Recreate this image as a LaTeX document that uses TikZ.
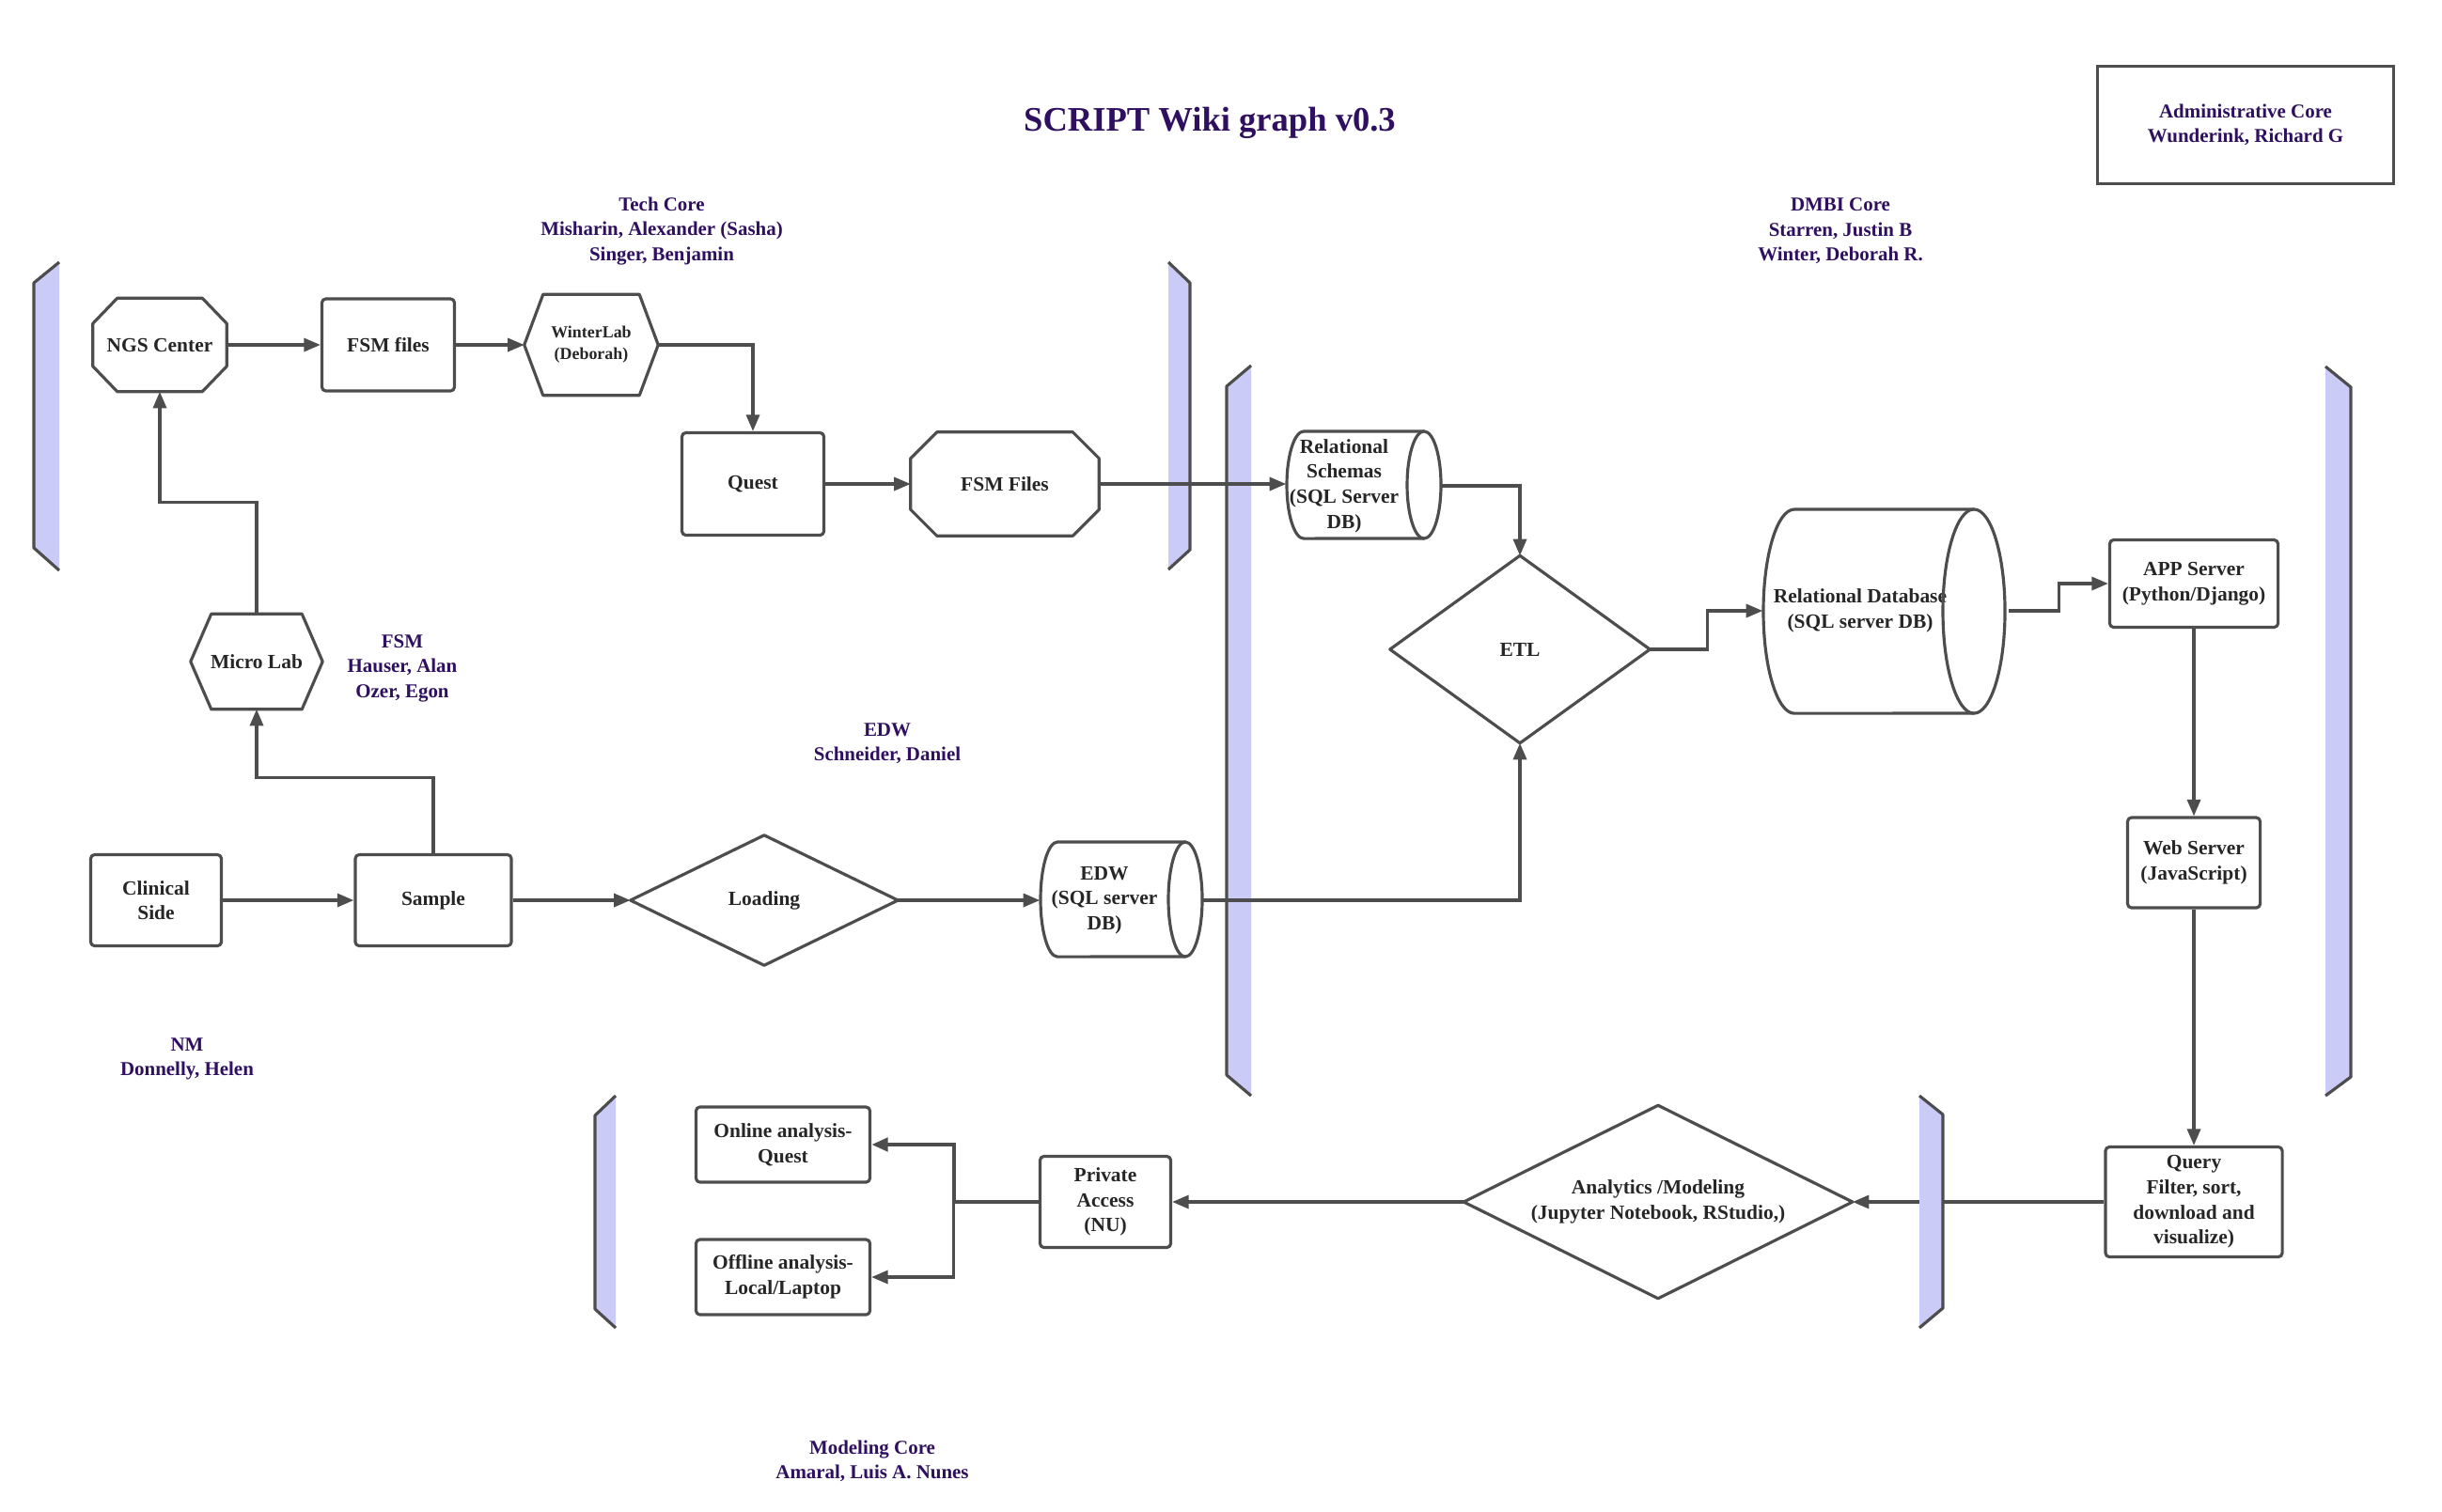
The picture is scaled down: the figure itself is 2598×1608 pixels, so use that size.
\documentclass[tikz,border=0pt]{standalone}
\usepackage{fontspec}
\setmainfont{Liberation Serif}
\usetikzlibrary{arrows.meta,calc}
\definecolor{ink}{HTML}{2F0F5F}
\definecolor{boxtext}{HTML}{262626}
\definecolor{edgecol}{HTML}{4D4D4D}
\definecolor{barfill}{HTML}{CBCBF7}
\newcommand\drawocta[3]{\draw[shp] ($(#1.north west)+(#2,0)$) -- ($(#1.north east)+(-#2,0)$) -- ($(#1.north east)+(0,#3)$) -- ($(#1.south east)+(0,-#3)$) -- ($(#1.south east)+(-#2,0)$) -- ($(#1.south west)+(#2,0)$) -- ($(#1.south west)+(0,-#3)$) -- ($(#1.north west)+(0,#3)$) -- cycle;}
\newcommand\drawhexa[2]{\draw[shp] ($(#1.north west)+(#2,0)$) -- ($(#1.north east)+(-#2,0)$) -- (#1.east) -- ($(#1.south east)+(-#2,0)$) -- ($(#1.south west)+(#2,0)$) -- (#1.west) -- cycle;}
\newcommand\drawdiam[1]{\draw[shp] (#1.north) -- (#1.east) -- (#1.south) -- (#1.west) -- cycle;}
\begin{document}
\begin{tikzpicture}[x=0.01cm,y=-0.01cm,
  lbl/.style={font=\fontsize{6.1}{7.6}\selectfont\bfseries, text=boxtext, align=center, inner sep=0pt},
  ann/.style={font=\fontsize{5.95}{7.5}\selectfont\bfseries, text=ink, align=center, inner sep=0pt},
  shp/.style={draw=edgecol, line width=0.9pt, line join=round},
  box/.style={shp, rounded corners=1.2pt},
  conn/.style={draw=edgecol, line width=0.9pt, -{Triangle[length=5pt,width=4pt]}},
  barstroke/.style={draw=edgecol, line width=0.9pt, line join=round}
]
\fill[white] (0,0) rectangle (2598,1608);
\useasboundingbox (0,0) rectangle (2598,1608);

% separator bars
\fill[barfill] (36,301) -- (63,279) -- (63,607) -- (36,583) -- cycle;
\draw[barstroke] (63,279) -- (36,301) -- (36,583) -- (63,607);
\fill[barfill] (1243,279) -- (1266,301) -- (1266,585) -- (1243,606) -- cycle;
\draw[barstroke] (1243,279) -- (1266,301) -- (1266,585) -- (1243,606);
\fill[barfill] (1331,389) -- (1305,411) -- (1305,1144) -- (1331,1166) -- cycle;
\draw[barstroke] (1331,389) -- (1305,411) -- (1305,1144) -- (1331,1166);
\fill[barfill] (2474,390) -- (2501,412) -- (2501,1146) -- (2474,1166) -- cycle;
\draw[barstroke] (2474,390) -- (2501,412) -- (2501,1146) -- (2474,1166);
\fill[barfill] (655,1166) -- (633,1187) -- (633,1393) -- (655,1413) -- cycle;
\draw[barstroke] (655,1166) -- (633,1187) -- (633,1393) -- (655,1413);

% title and annotations
\node[font=\fontsize{10.4}{12}\selectfont\bfseries, text=ink, inner sep=0pt] (title) at (1287,131) {SCRIPT Wiki graph v0.3};
\node[ann] (tech) at (704,246) {Tech Core\\Misharin, Alexander (Sasha)\\Singer, Benjamin};
\node[ann] (dmbi) at (1958,246) {DMBI Core\\Starren, Justin B\\Winter, Deborah R.};
\node[ann] (fsmann) at (428,711) {FSM\\Hauser, Alan\\Ozer, Egon};
\node[ann] (edwann) at (944,791) {EDW\\Schneider, Daniel};
\node[ann] (nm) at (199,1127) {NM\\Donnelly, Helen};
\node[ann] (model) at (928,1555) {Modeling Core\\Amaral, Luis A. Nunes};
\node[ann, draw=edgecol, line width=0.9pt, minimum width=3.15cm, minimum height=1.25cm] (admin) at (2389,133) {Administrative Core\\Wunderink, Richard G};

% top row
\node[lbl, minimum width=1.41cm, minimum height=0.98cm] (ngs) at (170,367) {NGS Center};
\drawocta{ngs}{26}{27}
\node[lbl, box, minimum width=1.41cm, minimum height=0.98cm] (fsmf) at (413,367) {FSM files};
\node[lbl, font=\fontsize{5.1}{6.6}\selectfont\bfseries, minimum width=1.41cm, minimum height=1.06cm] (wl) at (629,367) {WinterLab\\(Deborah)};
\drawhexa{wl}{20}
\node[lbl, box, minimum width=1.51cm, minimum height=1.09cm] (quest) at (801,515) {Quest};
\node[lbl, minimum width=1.99cm, minimum height=1.09cm] (fsmF) at (1069,515) {FSM Files};
\drawocta{fsmF}{28}{28}

% relational schemas cylinder
\node[lbl, minimum width=1.22cm, minimum height=1.14cm] (rs) at (1430,517) {Relational\\Schemas\\(SQL Server\\DB)};
\draw[shp] (1515,459) -- (1387,459) arc[start angle=90,end angle=270,x radius=0.18cm,y radius=0.57cm] -- (1515,573);
\draw[shp] (1515,516) ellipse[x radius=0.18cm,y radius=0.57cm];

% ETL
\node[lbl, minimum width=2.75cm, minimum height=1.98cm] (etl) at (1617,691) {ETL};
\drawdiam{etl}

% relational database cylinder
\node[lbl, minimum width=2.06cm, minimum height=2.17cm] (db) at (1979,650) {Relational Database\\(SQL server DB)};
\draw[shp] (2100,542) -- (1909,542) arc[start angle=90,end angle=270,x radius=0.33cm,y radius=1.085cm] -- (2100,759);
\draw[shp] (2100,650.5) ellipse[x radius=0.33cm,y radius=1.085cm];

% right column
\node[lbl, box, minimum width=1.79cm, minimum height=0.93cm] (app) at (2334,621) {APP Server\\(Python/Django)};
\node[lbl, box, minimum width=1.41cm, minimum height=0.96cm] (web) at (2334,918) {Web Server\\(JavaScript)};
\node[lbl, box, minimum width=1.88cm, minimum height=1.17cm] (query) at (2334,1279) {Query\\Filter, sort,\\download and\\visualize)};

% bottom row
\node[lbl, minimum width=4.12cm, minimum height=2.04cm] (ana) at (1764,1279) {Analytics /Modeling\\(Jupyter Notebook, RStudio,)};
\drawdiam{ana}
\node[lbl, box, minimum width=1.39cm, minimum height=0.97cm] (pa) at (1176,1279) {Private\\Access\\(NU)};
\node[lbl, box, minimum width=1.85cm, minimum height=0.80cm] (online) at (833,1218) {Online analysis-\\Quest};
\node[lbl, box, minimum width=1.85cm, minimum height=0.80cm] (offline) at (833,1359) {Offline analysis-\\Local/Laptop};

% left middle
\node[lbl, minimum width=1.39cm, minimum height=1.00cm] (micro) at (273,704) {Micro Lab};
\drawhexa{micro}{22}
\node[lbl, box, minimum width=1.39cm, minimum height=0.97cm] (cs) at (166,958) {Clinical\\Side};
\node[lbl, box, minimum width=1.66cm, minimum height=0.97cm] (sample) at (461,958) {Sample};
\node[lbl, minimum width=2.83cm, minimum height=1.37cm] (load) at (813,958) {Loading};
\drawdiam{load}

% EDW cylinder
\node[lbl, minimum width=1.36cm, minimum height=1.22cm] (edw) at (1175,958) {EDW\\(SQL server\\DB)};
\draw[shp] (1261,896) -- (1125,896) arc[start angle=90,end angle=270,x radius=0.18cm,y radius=0.61cm] -- (1261,1018);
\draw[shp] (1261,957) ellipse[x radius=0.18cm,y radius=0.61cm];

% connectors
\draw[conn] (ngs.east) -- (fsmf.west);
\draw[conn] (fsmf.east) -- (wl.west);
\draw[conn] (wl.east) -| (quest.north);
\draw[conn] (quest.east) -- (fsmF.west);
\draw[conn] (fsmF.east) -- (fsmF.east -| rs.west);
\draw[conn] ($(rs.east)+(42,0)$) -| (etl.north);
\draw[conn] (etl.east) -- ++(61,0) |- (db.west);
\draw[conn] ($(db.east)+(54,0)$) -- ++(54,0) |- (app.west);
\draw[conn] (app.south) -- (web.north);
\draw[conn] (web.south) -- (query.north);
\draw[conn] (query.west) -- (ana.east);
\draw[conn] (ana.west) -- (pa.east);
\draw[conn, line width=1.3pt] (pa.west) -- ++(-90,0) |- (online.east);
\draw[conn] (pa.west) -- ++(-90,0) |- (offline.east);
\draw[conn] (cs.east) -- (sample.west);
\draw[conn] (sample.north) -- ++(0,-80) -| (micro.south);
\draw[conn] (micro.north) -- ++(0,-119) -| (ngs.south);
\draw[conn] (sample.east) -- (load.west);
\draw[conn] (load.east) -- (load.east -| edw.west);
\draw[conn] ($(edw.east)+(36,0)$) -| (etl.south);

% bar drawn over the query connector
\fill[barfill] (2042,1166) -- (2067,1186) -- (2067,1392) -- (2042,1413) -- cycle;
\draw[barstroke] (2042,1166) -- (2067,1186) -- (2067,1392) -- (2042,1413);
\end{tikzpicture}
\end{document}
